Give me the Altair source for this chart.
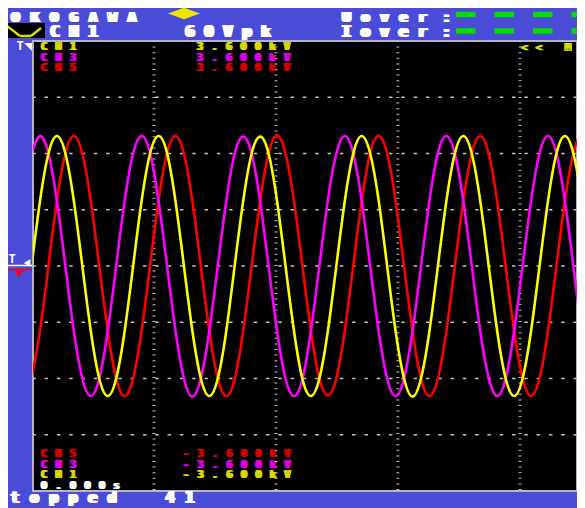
import altair as alt
import pandas as pd

# ---------------- data read from the screen ----------------
# phase along the time axis (degrees of the CH3 wave), one sample every 30 degrees
phase_deg = list(range(60, 2041, 30))

# CH3 (magenta), kV
ch3_kv = [
    1.80, 2.08, 1.80, 1.04, 0.00, -1.04, -1.80, -2.08, -1.80, -1.04, 0.00, 1.04,
    1.80, 2.08, 1.81, 1.04, 0.01, -1.03, -1.80, -2.09, -1.80, -1.04, 0.00, 1.04,
    1.80, 2.07, 1.80, 1.04, 0.00, -1.04, -1.80, -2.08, -1.81, -1.04, 0.00, 1.05,
    1.80, 2.08, 1.80, 1.04, 0.00, -1.04, -1.80, -2.08, -1.80, -1.04, -0.01, 1.04,
    1.81, 2.08, 1.80, 1.04, 0.00, -1.04, -1.79, -2.08, -1.80, -1.04, 0.00, 1.04,
    1.80, 2.08, 1.80, 1.04, 0.00, -1.04, -1.80,
]
# CH1 (yellow), kV
ch1_kv = [
    0.00, 1.04, 1.80, 2.08, 1.80, 1.04, 0.00, -1.04, -1.80, -2.08, -1.80, -1.04,
    0.00, 1.04, 1.80, 2.08, 1.81, 1.04, 0.00, -1.04, -1.80, -2.08, -1.80, -1.04,
    0.01, 1.04, 1.80, 2.07, 1.80, 1.04, 0.00, -1.04, -1.81, -2.08, -1.80, -1.04,
    0.00, 1.04, 1.80, 2.08, 1.80, 1.05, 0.00, -1.04, -1.80, -2.09, -1.80, -1.04,
    0.00, 1.04, 1.80, 2.08, 1.80, 1.04, 0.00, -1.04, -1.80, -2.08, -1.80, -1.04,
    0.00, 1.04, 1.80, 2.08, 1.80, 1.04, 0.00,
]
# CH5 (red), kV
ch5_kv = [
    -1.80, -1.04, 0.00, 1.04, 1.80, 2.08, 1.80, 1.04, 0.00, -1.04, -1.80, -2.08,
    -1.80, -1.04, 0.00, 1.04, 1.80, 2.08, 1.80, 1.04, 0.00, -1.04, -1.80, -2.08,
    -1.81, -1.04, 0.00, 1.04, 1.80, 2.09, 1.80, 1.04, 0.00, -1.04, -1.80, -2.07,
    -1.80, -1.04, 0.00, 1.04, 1.81, 2.08, 1.80, 1.04, 0.00, -1.04, -1.80, -2.08,
    -1.80, -1.04, 0.00, 1.04, 1.80, 2.08, 1.80, 1.04, 0.00, -1.04, -1.80, -2.08,
    -1.80, -1.04, 0.00, 1.04, 1.80, 2.08, 1.80,
]

hgrid_kv = [-2.7, -1.8, -0.9, 0.0, 0.9, 1.8, 2.7]
vgrid_deg = [494, 926, 1358, 1791]
x_domain = [65.2, 1992.8]
y_domain = [-3.6, 3.6]

top_labels = ["OKOGAWA", "Uover", "CH1", "60Vpk", "Iover", "topped  41"]
trace_labels = ["CH1", "CH3", "CH5"]
scale_top = "3.600kV"
scale_bottom = "-3.600kV"
time_label = "0.000s"
mode_label = "<< Mo"

# ---------------- styling ----------------
BLUE = "#4a4bd7"
WHITE = "#ffffff"
YEL_T, MAG_T, RED_T = "#dcdc00", "#e000e0", "#d40000"
YEL, MAG, RED = "#ffff00", "#ff00ff", "#ff0000"
GRID = "#c4c4c4"
OX, OY = 33, 41  # screen-pixel origin of the plot area
RIGHT = 577      # right edge of the drawable page


def P(ix):
    return ix - OX


def Q(iy):
    return iy - OY


xs = alt.Scale(domain=x_domain, nice=False, zero=False)
ys = alt.Scale(domain=y_domain, nice=False, zero=False)

# bitmap-style screen font: one fixed cell per character
TOP, BIG, SMALL = 14.5, 16, 10.5
items = [
    (top_labels[0], 15.5, 21.5, 19.4, WHITE, TOP),
    (top_labels[1], 346.5, 21.5, 19, WHITE, TOP),
    (":", 446.5, 21.5, 19, WHITE, TOP),
    (top_labels[2], 55, 37, 19, WHITE, BIG),
    (top_labels[3], 190, 37, 19, WHITE, BIG),
    (top_labels[4], 346.5, 37, 19, WHITE, BIG),
    (":", 446.5, 37, 19, WHITE, BIG),
    (top_labels[5], 15, 503, 19.4, WHITE, 15),
    (trace_labels[0], 44, 50, 14.5, YEL_T, SMALL),
    (trace_labels[1], 44, 60.5, 14.5, MAG_T, SMALL),
    (trace_labels[2], 44, 71, 14.5, RED_T, SMALL),
    (scale_top, 200, 50, 14.5, YEL_T, SMALL),
    (scale_top, 200, 60.5, 14.5, MAG_T, SMALL),
    (scale_top, 200, 71, 14.5, RED_T, SMALL),
    (mode_label, 524.5, 50.5, 14.5, YEL_T, SMALL),
    (trace_labels[2], 44, 457, 14.5, RED_T, SMALL),
    (trace_labels[1], 44, 467.5, 14.5, MAG_T, SMALL),
    (trace_labels[0], 44, 478, 14.5, YEL_T, SMALL),
    (time_label, 44, 488.5, 14.5, WHITE, SMALL),
    (scale_bottom, 186, 457, 14.5, RED_T, SMALL),
    (scale_bottom, 186, 467.5, 14.5, MAG_T, SMALL),
    (scale_bottom, 186, 478, 14.5, YEL_T, SMALL),
]
rows = []
for s, cx, by, adv, col, fs in items:
    spread = (-1.6, 0.0, 1.6) if fs > 12 else (-1.1, 0.0, 1.1)
    for i, c in enumerate(s):
        if c == " ":
            continue
        for dx in spread:
            rows.append(dict(px=P(cx + i * adv + dx), py=Q(by), t=c, col=col, fs=fs))
txt = pd.DataFrame(rows)

# ---------------- layers ----------------
hgrid = alt.Chart(pd.DataFrame({"v": hgrid_kv})).mark_rule(
    color=GRID, strokeWidth=1.5, strokeDash=[3.5, 8.8]
).encode(y=alt.Y("v:Q", scale=ys, axis=None))

vgrid = alt.Chart(pd.DataFrame({"t": vgrid_deg})).mark_rule(
    color=GRID, strokeWidth=3, strokeDash=[1, 4.6]
).encode(x=alt.X("t:Q", scale=xs, axis=None))


def wave(vals, color):
    return alt.Chart(pd.DataFrame({"phase": phase_deg, "kv": vals})).mark_line(
        color=color, strokeWidth=2.6, interpolate="natural", clip=True
    ).encode(
        x=alt.X("phase:Q", scale=xs, axis=None),
        y=alt.Y("kv:Q", scale=ys, axis=None),
    )


text_layer = alt.Chart(txt).mark_text(
    font="DejaVu Sans Mono", fontWeight="bold", align="center", baseline="alphabetic"
).encode(
    x=alt.X("px:Q", scale=None, axis=None),
    y=alt.Y("py:Q", scale=None, axis=None),
    text="t:N",
    color=alt.Color("col:N", scale=None),
    size=alt.Size("fs:Q", scale=None),
)

one = pd.DataFrame({"a": [0]})

green1 = alt.Chart(one).mark_rule(color="#00e000", strokeWidth=5.5, strokeDash=[19.5, 19]).encode(
    x=alt.value(P(456)), x2=alt.value(P(RIGHT)), y=alt.value(Q(14.5)))
green2 = alt.Chart(one).mark_rule(color="#00e000", strokeWidth=5.5, strokeDash=[19.5, 19]).encode(
    x=alt.value(P(456)), x2=alt.value(P(RIGHT)), y=alt.value(Q(31)))

diamond = alt.Chart(one).mark_point(
    shape="M -1 0 L 0 -0.36 L 1 0 L 0 0.36 Z", filled=True, color="#f0e400", opacity=1, size=1024
).encode(x=alt.value(P(184)), y=alt.value(Q(13.5)))

icon_box = alt.Chart(one).mark_rect(color="black").encode(
    x=alt.value(P(5)), x2=alt.value(P(45)), y=alt.value(Q(23)), y2=alt.value(Q(38)))
segs = pd.DataFrame({
    "x": [P(7), P(20), P(31)], "x2": [P(20), P(31), P(41)],
    "y": [Q(26), Q(36), Q(36)], "y2": [Q(36), Q(36), Q(28)],
})
icon_wave = alt.Chart(segs).mark_rule(color=YEL_T, strokeWidth=2.5).encode(
    x=alt.X("x:Q", scale=None), x2="x2:Q", y=alt.Y("y:Q", scale=None), y2="y2:Q")

t_marks = pd.DataFrame({"x": [P(20), P(12)], "y": [Q(50), Q(263)], "t": ["T", "T"]})
t_text = alt.Chart(t_marks).mark_text(
    font="DejaVu Sans Mono", fontWeight="bold", fontSize=12, color=WHITE, baseline="alphabetic"
).encode(x=alt.X("x:Q", scale=None), y=alt.Y("y:Q", scale=None), text="t:N")

tri_top = alt.Chart(one).mark_point(
    shape="M -1 -1 L 1 -1 L 1 1 Z", filled=True, color=WHITE, opacity=1, size=64
).encode(x=alt.value(P(28)), y=alt.value(Q(47)))
tri_trig = alt.Chart(one).mark_point(
    shape="triangle-left", filled=True, color=WHITE, opacity=1, size=60
).encode(x=alt.value(P(27)), y=alt.value(Q(263)))
white_line = alt.Chart(one).mark_rule(color=WHITE, strokeWidth=1.5).encode(
    x=alt.value(P(7)), x2=alt.value(P(32)), y=alt.value(Q(265.5)))
red_line = alt.Chart(one).mark_rule(color=RED, strokeWidth=1.5).encode(
    x=alt.value(P(8)), x2=alt.value(P(32)), y=alt.value(Q(269.5)))
red_tri = alt.Chart(one).mark_point(
    shape="triangle-down", filled=True, color=RED, opacity=1, size=70
).encode(x=alt.value(P(19)), y=alt.value(Q(274)))

chart = alt.layer(
    hgrid, vgrid,
    wave(ch5_kv, RED), wave(ch3_kv, MAG), wave(ch1_kv, YEL),
    green1, green2, diamond, icon_box, icon_wave,
    t_text, tri_top, tri_trig, white_line, red_line, red_tri,
    text_layer,
).properties(
    width=RIGHT - OX, height=450,
    padding={"left": 25, "top": 33, "right": 0, "bottom": 17},
    autosize="none",
    background=BLUE,
).configure_view(fill="black", stroke="#b4b4c4", strokeWidth=2)

chart.save("out.html", embed_options={"renderer": "svg", "actions": False})
